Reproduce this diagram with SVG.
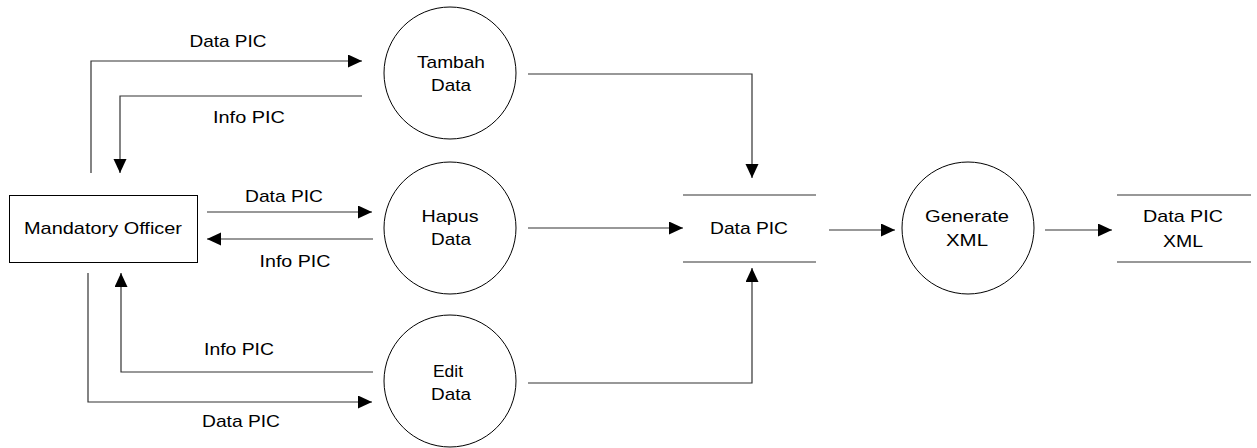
<svg xmlns="http://www.w3.org/2000/svg" width="1257" height="448" viewBox="0 0 1257 448">
<style>
text{font-family:"Liberation Sans",Arial,sans-serif;font-size:17px;fill:#000;text-anchor:middle}
.shape{fill:#fff;stroke:#000;stroke-width:1}
.store{stroke:#333;stroke-width:1.2;fill:none}
.flow{fill:none;stroke:#333;stroke-width:1.2}
</style>
<defs>
<marker id="arr" markerUnits="userSpaceOnUse" markerWidth="15" markerHeight="14" refX="14" refY="6.5" orient="auto">
<path d="M0,0 L14,6.5 L0,13 z" fill="#000"/>
</marker>
</defs>
<rect width="1257" height="448" fill="#fff"/>
<g id="connectors">
<path class="flow" d="M91,173 V61 H362" marker-end="url(#arr)"/>
<path class="flow" d="M362,96 H120 V173" marker-end="url(#arr)"/>
<path class="flow" d="M207,212 H372" marker-end="url(#arr)"/>
<path class="flow" d="M373,239 H207" marker-end="url(#arr)"/>
<path class="flow" d="M373,372 H121 V273" marker-end="url(#arr)"/>
<path class="flow" d="M88,273 V402 H372" marker-end="url(#arr)"/>
<path class="flow" d="M528,74 H752 V178" marker-end="url(#arr)"/>
<path class="flow" d="M528,228 H683" marker-end="url(#arr)"/>
<path class="flow" d="M528,383 H752 V268" marker-end="url(#arr)"/>
<path class="flow" d="M829,230 H895" marker-end="url(#arr)"/>
<path class="flow" d="M1045,230 H1112" marker-end="url(#arr)"/>
<text x="228" y="47" textLength="77" lengthAdjust="spacingAndGlyphs">Data PIC</text>
<text x="249" y="123" textLength="72" lengthAdjust="spacingAndGlyphs">Info PIC</text>
<text x="284" y="202" textLength="78" lengthAdjust="spacingAndGlyphs">Data PIC</text>
<text x="295" y="267" textLength="71" lengthAdjust="spacingAndGlyphs">Info PIC</text>
<text x="239" y="355" textLength="70" lengthAdjust="spacingAndGlyphs">Info PIC</text>
<text x="241" y="427" textLength="78" lengthAdjust="spacingAndGlyphs">Data PIC</text>
</g>
<g id="mandatory-officer">
<rect class="shape" x="9.5" y="195.5" width="188" height="67"/>
<text x="103" y="234" textLength="158" lengthAdjust="spacingAndGlyphs">Mandatory Officer</text>
</g>
<g id="tambah-data">
<circle class="shape" cx="450" cy="73" r="66"/>
<text x="451" y="68" textLength="68" lengthAdjust="spacingAndGlyphs">Tambah</text>
<text x="451" y="91" textLength="40" lengthAdjust="spacingAndGlyphs">Data</text>
</g>
<g id="hapus-data">
<circle class="shape" cx="450" cy="228" r="66"/>
<text x="450" y="222" textLength="57" lengthAdjust="spacingAndGlyphs">Hapus</text>
<text x="451" y="245" textLength="40" lengthAdjust="spacingAndGlyphs">Data</text>
</g>
<g id="edit-data">
<circle class="shape" cx="450" cy="381" r="66"/>
<text x="448" y="377" textLength="30" lengthAdjust="spacingAndGlyphs">Edit</text>
<text x="451" y="400" textLength="40" lengthAdjust="spacingAndGlyphs">Data</text>
</g>
<g id="data-pic-store">
<line class="store" x1="683" y1="195" x2="816" y2="195"/>
<line class="store" x1="683" y1="262" x2="816" y2="262"/>
<text x="749" y="234" textLength="78" lengthAdjust="spacingAndGlyphs">Data PIC</text>
</g>
<g id="generate-xml">
<circle class="shape" cx="968" cy="228" r="66"/>
<text x="967" y="222" textLength="84" lengthAdjust="spacingAndGlyphs">Generate</text>
<text x="967" y="246" textLength="42" lengthAdjust="spacingAndGlyphs">XML</text>
</g>
<g id="data-pic-xml-store">
<line class="store" x1="1117" y1="195" x2="1251" y2="195"/>
<line class="store" x1="1117" y1="262" x2="1251" y2="262"/>
<text x="1183" y="222" textLength="80" lengthAdjust="spacingAndGlyphs">Data PIC</text>
<text x="1183" y="247" textLength="40" lengthAdjust="spacingAndGlyphs">XML</text>
</g>
</svg>
